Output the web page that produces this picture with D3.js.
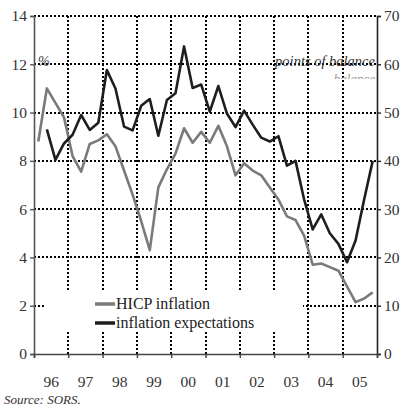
<!DOCTYPE html>
<html>
<head>
<meta charset="utf-8">
<script src="https://cdn.jsdelivr.net/npm/d3@7"></script>
<style>
  body { margin: 0; background: #fff; }
  text { font-family: "Liberation Serif", "DejaVu Serif", serif; }
</style>
</head>
<body>
<svg id="chart"></svg>
<script>
// quarterly data, 1996Q1 .. 2005Q4
const years = [1996, 1997, 1998, 1999, 2000, 2001, 2002, 2003, 2004, 2005];
const yearLabels = ["96", "97", "98", "99", "00", "01", "02", "03", "04", "05"];
const leftTicks = [0, 2, 4, 6, 8, 10, 12, 14];
const rightTicks = [0, 10, 20, 30, 40, 50, 60, 70];

// HICP inflation, % (left axis)
const hicp = [8.8, 11.0, 10.4, 9.8, 8.2, 7.55, 8.7, 8.85, 9.1, 8.6,
              7.6, 6.6, 5.5, 4.3, 6.9, 7.65, 8.3, 9.35, 8.75, 9.2,
              8.75, 9.45, 8.6, 7.4, 7.9, 7.6, 7.4, 6.9, 6.4, 5.7,
              5.55, 4.9, 3.7, 3.75, 3.6, 3.45, 2.8, 2.15, 2.3, 2.55];

// inflation expectations, points of balance (right axis)
const expectations = [null, 46.5, 40.2, 43.6, 45.4, 49.5, 46.4, 47.9, 58.8, 55.0,
                      47.1, 46.3, 51.4, 52.8, 45.2, 52.6, 54.0, 63.7, 55.1, 55.8,
                      50.2, 55.5, 49.8, 47.0, 50.4, 47.5, 44.8, 44.0, 45.1, 39.0,
                      40.0, 32.0, 25.8, 28.9, 25.0, 22.8, 19.0, 23.5, 32.0, 40.0];

const W = 405, H = 406;
const margin = {top: 16, right: 28, bottom: 52, left: 34};
const width = W - margin.left - margin.right;
const height = H - margin.top - margin.bottom;

const svg = d3.select("#chart").attr("width", W).attr("height", H);
const chart = svg.append("g").attr("transform", `translate(${margin.left},${margin.top})`);

const x = d3.scaleLinear().domain([1996, 2006]).range([0, width]);
const yL = d3.scaleLinear().domain([0, 14]).range([height, 0]);
const yR = d3.scaleLinear().domain([0, 70]).range([height, 0]);

const t = i => 1996 + (i + 0.5) / 4;

// grid
const grid = chart.append("g").attr("class", "grid").attr("shape-rendering", "crispEdges");
grid.selectAll(".hgrid")
    .data(leftTicks.filter(d => d > 0))
    .enter().append("line")
    .attr("x1", 0).attr("x2", width)
    .attr("y1", d => Math.round(yL(d))).attr("y2", d => Math.round(yL(d)))
    .attr("stroke", "#000").attr("stroke-width", 2)
    .attr("stroke-dasharray", "2,2");
grid.selectAll(".vgrid")
    .data(years.slice(1))
    .enter().append("line")
    .attr("x1", d => Math.round(x(d))).attr("x2", d => Math.round(x(d)))
    .attr("y1", 0).attr("y2", height)
    .attr("stroke", "#000").attr("stroke-width", 2)
    .attr("stroke-dasharray", "2,2");

// axes
const leftAxis = d3.axisLeft(yL).tickValues(leftTicks).tickSize(4).tickPadding(3);
const rightAxis = d3.axisRight(yR).tickValues(rightTicks).tickSize(4).tickPadding(3);
const bottomAxis = d3.axisBottom(x).tickValues(years.concat([2006])).tickSize(4).tickFormat("");

const styleAxis = (g, col) => {
  g.select(".domain").attr("stroke", col).attr("stroke-width", 1.6);
  g.selectAll(".tick line").attr("stroke", col).attr("stroke-width", 1.4);
  g.selectAll(".tick text").attr("fill", "#333").style("font-size", "15.5px");
};

chart.append("g").call(leftAxis).call(g => styleAxis(g, "#555"));
chart.append("g").attr("transform", `translate(${width},0)`).call(rightAxis).call(g => styleAxis(g, "#222"));
chart.append("g").attr("transform", `translate(0,${height})`).call(bottomAxis).call(g => styleAxis(g, "#444"));

chart.append("g").selectAll(".ylab")
    .data(years)
    .enter().append("text")
    .attr("x", d => x(d + 0.5))
    .attr("y", height + 33)
    .attr("text-anchor", "middle")
    .attr("fill", "#333")
    .style("font-size", "15.5px")
    .text((d, i) => yearLabels[i]);

// legend box (white) hides grid underneath
chart.append("rect")
    .attr("x", 45 - margin.left).attr("y", 292 - margin.top)
    .attr("width", 258).attr("height", 38)
    .attr("fill", "#fff");

// lines
const lineL = d3.line().x((d, i) => x(t(i))).y(d => yL(d));
const lineR = d3.line().defined(d => d != null).x((d, i) => x(t(i))).y(d => yR(d));

chart.append("path").datum(hicp)
    .attr("d", lineL).attr("fill", "none")
    .attr("stroke", "#7a7a7a").attr("stroke-width", 2.6).attr("stroke-linejoin", "round");
chart.append("path").datum(expectations)
    .attr("d", lineR).attr("fill", "none")
    .attr("stroke", "#1e1e1e").attr("stroke-width", 2.6).attr("stroke-linejoin", "round");

// unit labels
chart.append("text")
    .attr("x", 38 - margin.left).attr("y", 66 - margin.top)
    .attr("font-style", "italic").attr("fill", "#444").style("font-size", "14px")
    .text("%");
chart.append("text")
    .attr("x", width - 2).attr("y", 66 - margin.top)
    .attr("text-anchor", "end")
    .attr("font-style", "italic").attr("fill", "#333").style("font-size", "14.5px")
    .text("points of balance");

svg.append("clipPath").attr("id", "clipBal")
    .append("rect").attr("x", 300).attr("y", 71).attr("width", 80).attr("height", 8);
svg.append("text")
    .attr("clip-path", "url(#clipBal)")
    .attr("x", 375).attr("y", 83)
    .attr("text-anchor", "end")
    .attr("font-style", "italic").attr("fill", "#999").style("font-size", "13px")
    .text("balance");

// legend
const legend = chart.append("g").attr("transform", `translate(${95 - margin.left},${304 - margin.top})`);
const items = [
  {label: "HICP inflation", color: "#7a7a7a"},
  {label: "inflation expectations", color: "#1e1e1e"}
];
items.forEach((it, i) => {
  legend.append("line")
      .attr("x1", 0).attr("x2", 20)
      .attr("y1", i * 19).attr("y2", i * 19)
      .attr("stroke", it.color).attr("stroke-width", 3.5);
  legend.append("text")
      .attr("x", 21).attr("y", i * 19 + 5)
      .attr("fill", "#222").style("font-size", "16px")
      .text(it.label);
});

// source
svg.append("text")
    .attr("x", 4).attr("y", 404)
    .attr("font-style", "italic").attr("fill", "#333").style("font-size", "13px")
    .text("Source: SORS.");
</script>
</body>
</html>
